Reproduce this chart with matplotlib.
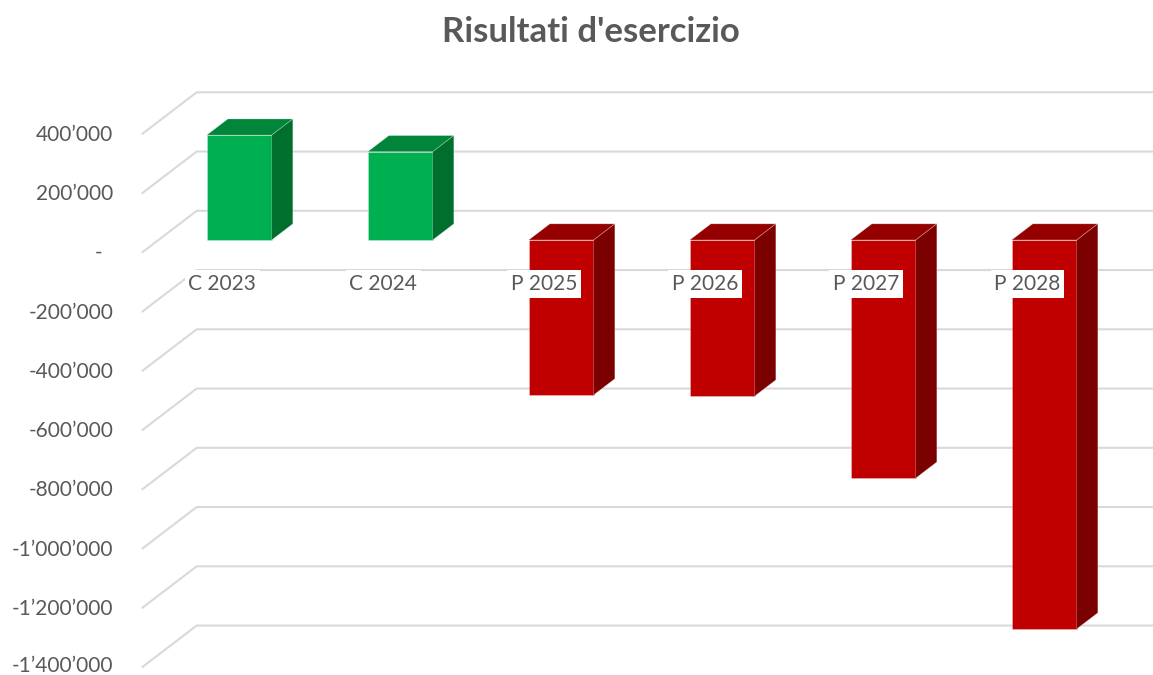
import matplotlib
matplotlib.use("Agg")
import matplotlib.pyplot as plt
from matplotlib.patches import Polygon
from matplotlib.ticker import FuncFormatter
from matplotlib.transforms import ScaledTranslation

# --- data -------------------------------------------------------------
categories = ["C 2023", "C 2024", "P 2025", "P 2026", "P 2027", "P 2028"]
results = [354000, 298000, -523000, -527000, -804000, -1313000]
y_ticks = [400000, 200000, 0, -200000, -400000, -600000, -800000,
           -1000000, -1200000, -1400000]
title = "Risultati d'esercizio"

# --- layout (pixel geometry of the oblique 3-D frame) -----------------
W, H, DPI = 1153, 675, 100
L, R, T, B = 141.7, 1153.0, 70.0, 675.0      # axes box in pixels
CAT_PX, CAT0_PX = 161.0, 222.4                # category spacing / first centre
VAL_PX, ZERO_PX = 59.25 / 200000, 252.8       # pixels per unit / zero line
WALL_DX_PX, WALL_DY_PX = 55.0, 42.0           # depth offset of the back wall
D_FRONT, D_BACK = 0.305, 0.69                 # bar depth within the floor
BAR_W = 65.0 / CAT_PX

TEXT = "#595959"
GRID = "#d9d9d9"
POS = dict(front="#00B050", top="#00853B", side="#006F2E")
NEG = dict(front="#C00000", top="#940000", side="#7B0000")

plt.rcParams["font.family"] = ["Lato", "DejaVu Sans"]

fig = plt.figure(figsize=(W / DPI, H / DPI), dpi=DPI)
ax = fig.add_axes([L / W, 1 - B / H, (R - L) / W, (B - T) / H])
ax.set_xlim((L - CAT0_PX) / CAT_PX, (R - CAT0_PX) / CAT_PX)
ax.set_ylim((ZERO_PX - B) / VAL_PX, (ZERO_PX - T) / VAL_PX)

wdx = WALL_DX_PX / CAT_PX
wdy = WALL_DY_PX / VAL_PX


def proj(x, y, d):
    """Project a point of the front plane back by depth fraction d."""
    return (x + d * wdx, y + d * wdy)


# gridlines: diagonal on the side wall, horizontal on the back wall
x_left, x_right = ax.get_xlim()
for v in y_ticks:
    bx, by = proj(x_left, v, 1.0)
    ax.plot([x_left, bx, x_right], [v, by, by], color=GRID, lw=1.5,
            solid_capstyle="butt", zorder=1, clip_on=False)

# 3-D bars: front face, top face, right side face
for i, v in enumerate(results):
    col = POS if v >= 0 else NEG
    xl, xr = i - BAR_W / 2, i + BAR_W / 2
    lo, hi = min(0, v), max(0, v)
    fx, fy = proj(0, 0, D_FRONT)
    ax.bar(i + fx, v, bottom=fy, width=BAR_W, color=col["front"],
           edgecolor=(1, 1, 1, 0.35), linewidth=0.5, zorder=2)
    top = [proj(xl, hi, D_FRONT), proj(xr, hi, D_FRONT),
           proj(xr, hi, D_BACK), proj(xl, hi, D_BACK)]
    side = [proj(xr, lo, D_FRONT), proj(xr, hi, D_FRONT),
            proj(xr, hi, D_BACK), proj(xr, lo, D_BACK)]
    for pts, c in ((top, col["top"]), (side, col["side"])):
        ax.add_patch(Polygon(pts, closed=True, facecolor=c,
                             edgecolor=(1, 1, 1, 0.35), linewidth=0.5,
                             zorder=2))

# category labels on white boxes
label_y = (ZERO_PX - 284.0) / VAL_PX
for i, name in enumerate(categories):
    ax.text(i, label_y, name, ha="center", va="center", fontsize=15,
            color=TEXT, zorder=3,
            bbox=dict(boxstyle="square,pad=0.18", facecolor="white",
                      edgecolor="none"))


def fmt(v, _pos):
    if v == 0:
        return "-  "
    s = f"{int(abs(v)):,}".replace(",", "\u2019")
    return ("-" if v < 0 else "") + s


ax.set_yticks(y_ticks)
ax.yaxis.set_major_formatter(FuncFormatter(fmt))
ax.tick_params(axis="y", length=0, pad=20.5, labelsize=15, labelcolor=TEXT)
ylabels = ax.get_yticklabels()
for k, lab in enumerate(ylabels):
    # keep the lowest label clear of the bottom edge
    up = 4.0 if k == len(ylabels) - 1 else 1.5
    lab.set_transform(lab.get_transform()
                      + ScaledTranslation(0, up / DPI, fig.dpi_scale_trans))
ax.set_xticks([])
for s in ax.spines.values():
    s.set_visible(False)
ax.set_facecolor("none")

fig.text(590.9 / W, 1 - 41.7 / H, title, ha="center", va="baseline",
         fontsize=25, fontweight="bold", color=TEXT)

fig.savefig("out.png", dpi=DPI, facecolor="white")
